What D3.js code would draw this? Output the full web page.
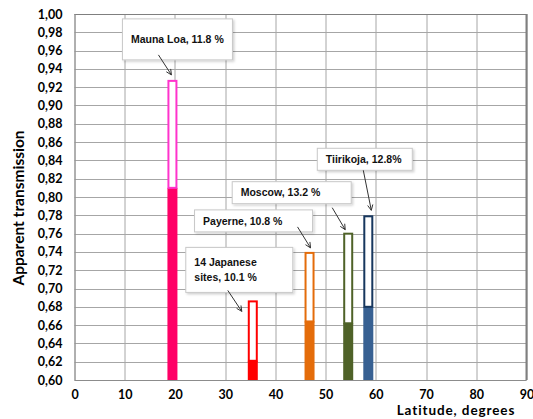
<!DOCTYPE html>
<html>
<head>
<meta charset="utf-8">
<script src="https://cdn.jsdelivr.net/npm/d3@7"></script>
<style>
  body { margin: 0; background: #fff; }
  svg { display: block; }
  .tick text { font-family: Lato, "Open Sans", sans-serif; font-weight: bold; font-size: 12.5px; fill: #000; }
  .callout text { font-family: "Liberation Sans", Arial, sans-serif; font-weight: bold; font-size: 10.5px; fill: #111; }
</style>
</head>
<body>
<div id="chart"></div>
<script>

// data
var sites = ["Mauna Loa", "14 Japanese sites", "Payerne", "Moscow", "Tiirikoja"];
var latitudes = [19.5, 35.5, 46.8, 54.5, 58.5];
var lowValues = [0.810, 0.621, 0.664, 0.662, 0.680];
var highValues = [0.928, 0.687, 0.740, 0.761, 0.780];
var labels = [["Mauna Loa, 11.8 %"], ["14 Japanese", "sites, 10.1 %"], ["Payerne, 10.8 %"], ["Moscow, 13.2 %"], ["Tiirikoja, 12.8%"]];
var xTicks = [0, 10, 20, 30, 40, 50, 60, 70, 80, 90];
var yTicks = [0.60, 0.62, 0.64, 0.66, 0.68, 0.70, 0.72, 0.74, 0.76, 0.78, 0.80,
              0.82, 0.84, 0.86, 0.88, 0.90, 0.92, 0.94, 0.96, 0.98, 1.00];

// styling per site
var fillColors = ["#ff0066", "#ff0000", "#e46c0a", "#4f6228", "#376092"];
var lineColors = ["#ff33cc", "#ff0000", "#e46c0a", "#4f6228", "#17375e"];

// callout boxes, pixel offsets from the bar top: box [x0,y0,x1,y1], arrow [sx,sy,ex,ey]
var callouts = [
  {box: [-50, -61, 60, -20], arrow: [-14, -25, -1, -5]},
  {box: [-67, -53, 40, -8], arrow: [-25, -10, -11, 11]},
  {box: [-115, -42, 3, -20], arrow: [-12, -25, 1, -4]},
  {box: [-116, -51, 3, -29], arrow: [-16, -25, -3, -3]},
  {box: [-51, -67, 44, -45], arrow: [-5, -45, 3, -5]}
];

var margin = {top: 14, right: 6.5, bottom: 39, left: 74.5},
    W = 533, H = 419,
    width = W - margin.left - margin.right,
    height = H - margin.top - margin.bottom;

var x = d3.scaleLinear().domain([0, 90]).range([0, width]);
var y = d3.scaleLinear().domain([0.6, 1.0]).range([height, 0]);

var svg = d3.select("#chart").append("svg")
    .attr("width", W)
    .attr("height", H);

var defs = svg.append("defs");
var shadow = defs.append("filter").attr("id", "shadow").attr("x", "-10%").attr("y", "-20%").attr("width", "130%").attr("height", "160%");
shadow.append("feDropShadow").attr("dx", 1.5).attr("dy", 1.5).attr("stdDeviation", 1.2).attr("flood-color", "#000").attr("flood-opacity", 0.18);

var g = svg.append("g")
    .attr("transform", "translate(" + margin.left + "," + margin.top + ")");

// grid
g.append("g").selectAll("line.h")
    .data(yTicks)
  .enter().append("line")
    .attr("x1", 0).attr("x2", width)
    .attr("y1", function(d) { return Math.round(y(d)) + 0.5; })
    .attr("y2", function(d) { return Math.round(y(d)) + 0.5; })
    .style("stroke", "#a6a6a6");

g.append("g").selectAll("line.v")
    .data(xTicks)
  .enter().append("line")
    .attr("y1", 0).attr("y2", height)
    .attr("x1", function(d) { return Math.round(x(d)) + 0.5; })
    .attr("x2", function(d) { return Math.round(x(d)) + 0.5; })
    .style("stroke", "#a6a6a6");

// frame: darker top and right
g.append("line").attr("x1", 0).attr("x2", width).attr("y1", 0.5).attr("y2", 0.5).style("stroke", "#7f7f7f");
g.append("line").attr("x1", width).attr("x2", width).attr("y1", 0).attr("y2", height).style("stroke", "#7f7f7f").style("stroke-width", 2);
g.append("line").attr("x1", 0.5).attr("x2", 0.5).attr("y1", 0).attr("y2", height).style("stroke", "#8c8c8c");
g.append("line").attr("x1", 0).attr("x2", width).attr("y1", height + 0.5).attr("y2", height + 0.5).style("stroke", "#8c8c8c");

// axes
var yAxis = d3.axisLeft(y)
    .tickValues(yTicks)
    .tickSize(0)
    .tickPadding(12)
    .tickFormat(function(d) { return d3.format(".2f")(d).replace(".", ","); });

var xAxis = d3.axisBottom(x)
    .tickValues(xTicks)
    .tickSize(0)
    .tickPadding(10)
    .tickFormat(d3.format("d"));

g.append("g").attr("class", "y axis").call(yAxis)
    .call(function(s) { s.select(".domain").remove(); });

g.append("g").attr("class", "x axis")
    .attr("transform", "translate(0," + height + ")")
    .call(xAxis)
    .call(function(s) { s.select(".domain").remove(); });

// bars
var barW = 10;
var bars = g.selectAll(".bar")
    .data(sites)
  .enter().append("g")
    .attr("class", "bar");

bars.append("rect")
    .attr("x", function(d, i) { return x(latitudes[i]) - barW / 2; })
    .attr("width", barW)
    .attr("y", function(d, i) { return y(lowValues[i]); })
    .attr("height", function(d, i) { return height - y(lowValues[i]); })
    .style("fill", function(d, i) { return fillColors[i]; });

bars.append("rect")
    .attr("x", function(d, i) { return x(latitudes[i]) - barW / 2 + 1; })
    .attr("width", barW - 2)
    .attr("y", function(d, i) { return y(highValues[i]) + 1; })
    .attr("height", function(d, i) { return y(lowValues[i]) - y(highValues[i]) - 1; })
    .style("fill", "#fff")
    .style("stroke", function(d, i) { return lineColors[i]; })
    .style("stroke-width", 2);

// callouts
var co = g.selectAll(".callout")
    .data(sites)
  .enter().append("g")
    .attr("class", "callout")
    .attr("transform", function(d, i) {
      return "translate(" + x(latitudes[i]) + "," + y(highValues[i]) + ")";
    });

co.append("rect")
    .attr("x", function(d, i) { return callouts[i].box[0]; })
    .attr("y", function(d, i) { return callouts[i].box[1]; })
    .attr("width", function(d, i) { return callouts[i].box[2] - callouts[i].box[0]; })
    .attr("height", function(d, i) { return callouts[i].box[3] - callouts[i].box[1]; })
    .style("fill", "#fff")
    .style("stroke", "#c8c8c8")
    .attr("filter", "url(#shadow)");

co.each(function(d, i) {
  var c = callouts[i], lines = labels[i];
  var sel = d3.select(this);
  var lh = 15;
  var midY = (c.box[1] + c.box[3]) / 2;
  lines.forEach(function(t, k) {
    sel.append("text")
      .attr("x", c.box[0] + 8.5)
      .attr("y", midY + (k - (lines.length - 1) / 2) * lh)
      .attr("dy", "0.36em")
      .text(t);
  });
  // arrow
  var a = c.arrow;
  var ang = Math.atan2(a[3] - a[1], a[2] - a[0]);
  var hl = 6, spread = 0.45;
  sel.append("line")
    .attr("x1", a[0]).attr("y1", a[1]).attr("x2", a[2]).attr("y2", a[3])
    .style("stroke", "#333").style("stroke-width", 1);
  sel.append("path")
    .attr("d", "M" + (a[2] - hl * Math.cos(ang - spread)) + "," + (a[3] - hl * Math.sin(ang - spread)) +
               "L" + a[2] + "," + a[3] +
               "L" + (a[2] - hl * Math.cos(ang + spread)) + "," + (a[3] - hl * Math.sin(ang + spread)))
    .style("fill", "none").style("stroke", "#333").style("stroke-width", 1);
});

// axis titles
svg.append("text")
    .attr("transform", "translate(24,208) rotate(-90)")
    .style("text-anchor", "middle")
    .style("font-family", "Lato, sans-serif")
    .style("font-weight", "bold")
    .style("font-size", "15.5px")
    .text("Apparent transmission");

svg.append("text")
    .attr("x", 456)
    .attr("y", 415)
    .style("text-anchor", "middle")
    .style("font-family", "Lato, sans-serif")
    .style("font-weight", "bold")
    .style("font-size", "13.5px")
    .style("letter-spacing", "0.9px")
    .text("Latitude, degrees");

</script>
</body>
</html>
